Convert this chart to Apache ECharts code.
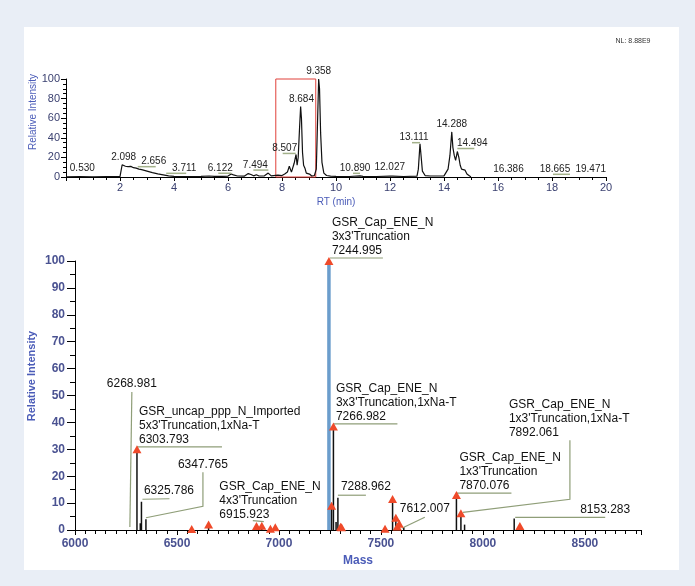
<!DOCTYPE html>
<html>
<head>
<meta charset="utf-8">
<script src="https://cdn.jsdelivr.net/npm/echarts@6/dist/echarts.min.js"></script>
<style>
  html, body { margin: 0; padding: 0; background: #e9eef6; }
  #main { width: 695px; height: 586px; }
</style>
</head>
<body>
<div id="main"></div>
<script>
// chromatogram (RT min, relative intensity)
const ticTrace = [
  [0.0, 0.2], [0.5, 0.3], [1.0, 0.2], [1.5, 0.3], [2.0, 0.3], [2.07, 0.5],
  [2.08, 12.5], [2.1, 13.5], [2.12, 11], [2.15, 12.5], [2.2, 11], [2.25, 12],
  [2.3, 10.5], [2.4, 10.8], [2.5, 9.5], [2.6, 9], [2.7, 8], [2.8, 7.5],
  [3.0, 6], [3.2, 4.5], [3.4, 3.2], [3.6, 2.2], [3.8, 1.2], [4.0, 0.7],
  [4.5, 0.5], [5.0, 0.6], [5.3, 1.0], [5.5, 0.6], [5.8, 0.7], [6.0, 0.9],
  [6.12, 3.0], [6.2, 2.2], [6.35, 1.0], [6.6, 0.8], [6.75, 3.5], [6.85, 2.5],
  [6.95, 1.2], [7.05, 2.3], [7.15, 1.0], [7.35, 1.2], [7.49, 4.0], [7.6, 1.2],
  [7.85, 2.0], [8.0, 1.5], [8.1, 3], [8.2, 5], [8.27, 11], [8.35, 5],
  [8.45, 14], [8.52, 23], [8.56, 12], [8.6, 20], [8.65, 50], [8.69, 72],
  [8.72, 60], [8.76, 25], [8.8, 12], [8.85, 9], [8.9, 4], [8.97, 6],
  [9.02, 3], [9.1, 1], [9.2, 1.5], [9.27, 8], [9.32, 60], [9.358, 100],
  [9.39, 90], [9.43, 45], [9.48, 15], [9.55, 4], [9.65, 1.5], [9.8, 0.8],
  [10.0, 0.6], [10.5, 0.5], [10.89, 1.2], [11.0, 0.6], [11.5, 0.5], [12.0, 0.8],
  [12.027, 2.0], [12.1, 0.8], [12.5, 0.5], [13.0, 0.8], [13.05, 8], [13.111, 34],
  [13.15, 22], [13.2, 6], [13.3, 1.5], [13.5, 1], [14.0, 1.2], [14.15, 8],
  [14.22, 22], [14.288, 46], [14.33, 30], [14.38, 22], [14.43, 17], [14.494, 26],
  [14.55, 20], [14.6, 12], [14.65, 8], [14.72, 6], [14.78, 7], [14.85, 3],
  [14.95, 1], [15.0, 0.3]
];
const ticPeakRt = [0.530, 2.098, 2.656, 3.711, 6.122, 7.494, 8.507, 8.684, 9.358,
  10.890, 12.027, 13.111, 14.288, 14.494, 16.386, 18.665, 19.471];
const ticPeakInt = [0.3, 13, 8.5, 1.2, 2.8, 4, 22, 72, 100, 1.2, 2, 34, 46, 26, 0.2, 0.2, 0.2];
const rtWindow = [7.77, 9.25];

// deconvoluted spectrum (mass, relative intensity)
const stickMass = [6303.793, 6320, 6325.786, 6347.765, 6572, 6655, 6890, 6915.923, 6958, 6982,
  7258, 7266.982, 7280, 7288.962, 7306, 7520, 7557, 7573, 7580, 7590, 7612.007,
  7870.076, 7892.061, 7910, 8153.283, 8181];
const stickInt = [30, 2.5, 10.5, 4, 0.4, 2, 1.5, 1.6, 0.5, 1,
  9, 38.5, 3, 12, 1.2, 0.5, 11.5, 4.6, 1.3, 2.3, 1,
  13, 6.2, 2, 4.3, 1.5];
const basePeak = [7244.995, 100];
const markMass = [6303.793, 6572, 6655, 6890, 6915.923, 6958, 6982, 7244.995, 7258, 7266.982,
  7302, 7307, 7520, 7557, 7573, 7580, 7590, 7870.076, 7892.061, 8181];
const markInt = [30, 0.4, 2, 1.5, 1.6, 0.5, 1, 100, 9, 38.5,
  1.2, 1, 0.5, 11.5, 4.6, 1.3, 2.3, 13, 6.2, 1.5];

const noteMass = [7244.995, 7266.982, 6303.793, 6325.786, 6347.765, 6268.981, 6915.923,
  7288.962, 7612.007, 7870.076, 7892.061, 8153.283];
const noteInt = [100, 38.5, 30, 10.5, 4, 0, 1.6, 12, 1, 13, 6.2, 4.3];
const noteNames = [
  ['GSR_Cap_ENE_N', "3x3'Truncation"],
  ['GSR_Cap_ENE_N', "3x3'Truncation,1xNa-T"],
  ['GSR_uncap_ppp_N_Imported', "5x3'Truncation,1xNa-T"],
  [], [], [],
  ['GSR_Cap_ENE_N', "4x3'Truncation"],
  [], [],
  ['GSR_Cap_ENE_N', "1x3'Truncation"],
  ['GSR_Cap_ENE_N', "1x3'Truncation,1xNa-T"],
  []
];

// label placement (pixel offsets from the peak apex)
const topLabelPos = [[2, -8, 0], [1, -7, 0], [16, -7, 1], [18, -7.5, 1], [-11, -6, 1], [-13, -8, 1],
  [-11, -7, 1], [1, -7, 0], [0, -8, 0], [-5, -7.5, 1], [-1, -8, 0], [-6, -6, 1], [0, -8, 0],
  [15, -8, 1], [0, -7.5, 0], [-15, -7.5, 1], [-1, -7.5, 0]];
const notePos = [
  { lead: [[1, -3], [54, -3]], at: [3, -3.5], align: 'left' },
  { lead: [[0, -2.5], [64, -2.5]], at: [2.5, -2.5], align: 'left' },
  { lead: [[0, -2.5], [85, -2.5]], at: [2, -2.5], align: 'left' },
  { lead: [[1, -2.5], [28, -3]], at: [2.5, -4], align: 'left' },
  { lead: [[0, -1.5], [57, -13], [57, -47]], at: [57, -48], align: 'center' },
  { lead: [[0, -3], [2, -138]], at: [2, -139], align: 'center' },
  { lead: [[-9, -5], [2, -4]], at: [-42.5, -4], align: 'left' },
  { lead: [[0, -2.5], [28, -2.5]], at: [3, -4], align: 'left' },
  { lead: [[-2, 1], [21, -10]], at: [21, -12], align: 'center' },
  { lead: [[0.5, -2], [55, -2]], at: [3, -2.5], align: 'left' },
  { lead: [[2, -1], [109, -14], [109, -73]], at: [48, -74], align: 'left' },
  { lead: [[1, -1], [91, -1]], at: [116, -2], align: 'right' }
];

const FONT = '"Liberation Sans", Arial, sans-serif';
const leadColor = '#8f9e78';
const tickBlue = '#4a5291';
const nameBlue = '#4b5cb8';

const chart = echarts.init(document.getElementById('main'));

const option = {
  backgroundColor: '#e9eef6',
  animation: false,
  graphic: [
    { type: 'rect', z: -10, shape: { x: 24, y: 27, width: 655, height: 543 }, style: { fill: '#ffffff' } },
    { type: 'text', x: 633, y: 41, style: { text: 'NL: 8.88E9', font: '7px ' + FONT, fill: '#333', align: 'center', verticalAlign: 'middle' } },
    { type: 'text', x: 33, y: 112, rotation: Math.PI / 2, style: { text: 'Relative Intensity', font: '10px ' + FONT, fill: nameBlue, align: 'center', verticalAlign: 'middle' } },
    { type: 'text', x: 32, y: 376, rotation: Math.PI / 2, style: { text: 'Relative Intensity', font: 'bold 11px ' + FONT, fill: nameBlue, align: 'center', verticalAlign: 'middle' } }
  ],
  grid: [
    { left: 66, top: 79, width: 540, height: 98 },
    { left: 75, top: 261, width: 566, height: 269 }
  ],
  xAxis: [
    {
      gridIndex: 0, type: 'value', min: 0, max: 20, interval: 2,
      name: 'RT (min)', nameLocation: 'middle', nameGap: 20,
      nameTextStyle: { color: nameBlue, fontSize: 10, fontFamily: FONT },
      axisLine: { lineStyle: { color: '#000', width: 1 } },
      axisTick: { length: 4, lineStyle: { color: '#000' } },
      minorTick: { show: true, splitNumber: 4, length: 3, lineStyle: { color: '#000' } },
      splitLine: { show: false },
      axisLabel: { color: '#3b4170', fontSize: 11, fontFamily: FONT, margin: 5,
        formatter: v => (v === 0 ? '' : String(v)) }
    },
    {
      gridIndex: 1, type: 'value', min: 6000, max: 8775, interval: 500,
      name: 'Mass', nameLocation: 'middle', nameGap: 25,
      nameTextStyle: { color: nameBlue, fontSize: 12, fontWeight: 'bold', fontFamily: FONT },
      axisLine: { lineStyle: { color: '#000', width: 1 } },
      axisTick: { length: 5, lineStyle: { color: '#000' } },
      minorTick: { show: true, splitNumber: 10, length: 4, lineStyle: { color: '#000' } },
      splitLine: { show: false },
      axisLabel: { color: tickBlue, fontSize: 12, fontWeight: 'bold', fontFamily: FONT, margin: 8,
        showMaxLabel: false, formatter: v => String(v) }
    }
  ],
  yAxis: [
    {
      gridIndex: 0, type: 'value', min: 0, max: 100, interval: 20,
      axisLine: { show: true, lineStyle: { color: '#000', width: 1 } },
      axisTick: { show: true, length: 5, lineStyle: { color: '#000' } },
      minorTick: { show: true, splitNumber: 4, length: 3, lineStyle: { color: '#000' } },
      splitLine: { show: false },
      axisLabel: { color: '#3b4170', fontSize: 11, fontFamily: FONT, margin: 6 }
    },
    {
      gridIndex: 1, type: 'value', min: 0, max: 100, interval: 10,
      axisLine: { show: true, lineStyle: { color: '#000', width: 1 } },
      axisTick: { show: true, length: 8, lineStyle: { color: '#000' } },
      minorTick: { show: true, splitNumber: 2, length: 5, lineStyle: { color: '#000' } },
      splitLine: { show: false },
      axisLabel: { color: tickBlue, fontSize: 12, fontWeight: 'bold', fontFamily: FONT, margin: 10 }
    }
  ],
  series: [
    {
      type: 'line', xAxisIndex: 0, yAxisIndex: 0, data: ticTrace,
      showSymbol: false, symbol: 'none',
      lineStyle: { color: '#111', width: 1.2 },
      markArea: {
        silent: true,
        itemStyle: { color: 'rgba(0,0,0,0)', borderColor: '#e0403a', borderWidth: 1 },
        data: [[{ xAxis: rtWindow[0], yAxis: 0 }, { xAxis: rtWindow[1], yAxis: 100 }]]
      }
    },
    {
      type: 'custom', xAxisIndex: 0, yAxisIndex: 0, z: 5,
      data: ticPeakRt.map((r, i) => [r, ticPeakInt[i]]),
      renderItem: (params, api) => {
        const p = api.coord([api.value(0), api.value(1)]);
        const lay = topLabelPos[params.dataIndex];
        const lx = p[0] + lay[0], ly = p[1] + lay[1];
        const children = [{
          type: 'text', x: lx, y: ly,
          style: { text: api.value(0).toFixed(3), font: '10px ' + FONT, fill: '#222', align: 'center', verticalAlign: 'middle' }
        }];
        if (lay[2]) {
          const end = lx + (lay[0] > 0 ? 2 : -2);
          children.push({
            type: 'line', shape: { x1: p[0], y1: ly + 5, x2: end, y2: ly + 5 },
            style: { stroke: '#a3b18a', lineWidth: 1.5 }
          });
        }
        return { type: 'group', children };
      }
    },
    {
      type: 'custom', xAxisIndex: 1, yAxisIndex: 1, z: 2,
      data: [basePeak],
      renderItem: (params, api) => {
        const top = api.coord([api.value(0), api.value(1)]);
        const base = api.coord([api.value(0), 0]);
        return { type: 'line', shape: { x1: top[0], y1: top[1], x2: base[0], y2: base[1] },
          style: { stroke: '#6b9dcc', lineWidth: 3.5 } };
      }
    },
    {
      type: 'custom', xAxisIndex: 1, yAxisIndex: 1, z: 3,
      data: stickMass.map((m, i) => [m, stickInt[i]]),
      renderItem: (params, api) => {
        const top = api.coord([api.value(0), api.value(1)]);
        const base = api.coord([api.value(0), 0]);
        return { type: 'line', shape: { x1: top[0], y1: top[1], x2: base[0], y2: base[1] },
          style: { stroke: '#111', lineWidth: 1.5 } };
      }
    },
    {
      type: 'custom', xAxisIndex: 1, yAxisIndex: 1, z: 4,
      data: noteMass.map((m, i) => [m, noteInt[i]]),
      renderItem: (params, api) => {
        const i = params.dataIndex;
        const p = api.coord([api.value(0), api.value(1)]);
        const lay = notePos[i];
        const lines = noteNames[i].concat([noteMass[i].toFixed(3)]);
        return {
          type: 'group',
          children: [
            { type: 'polyline', shape: { points: lay.lead.map(d => [p[0] + d[0], p[1] + d[1]]) },
              style: { stroke: leadColor, lineWidth: 1.2, fill: null } },
            { type: 'text', x: p[0] + lay.at[0], y: p[1] + lay.at[1],
              style: { text: lines.join('\n'), font: '12px ' + FONT, lineHeight: 14, fill: '#111',
                align: lay.align, verticalAlign: 'bottom' } }
          ]
        };
      }
    },
    {
      type: 'scatter', xAxisIndex: 1, yAxisIndex: 1, z: 6,
      data: markMass.map((m, i) => [m, markInt[i]]),
      symbol: 'triangle', symbolSize: [9, 8],
      itemStyle: { color: '#ef4a2a', opacity: 1 }
    }
  ]
};

chart.setOption(option);
</script>
</body>
</html>
